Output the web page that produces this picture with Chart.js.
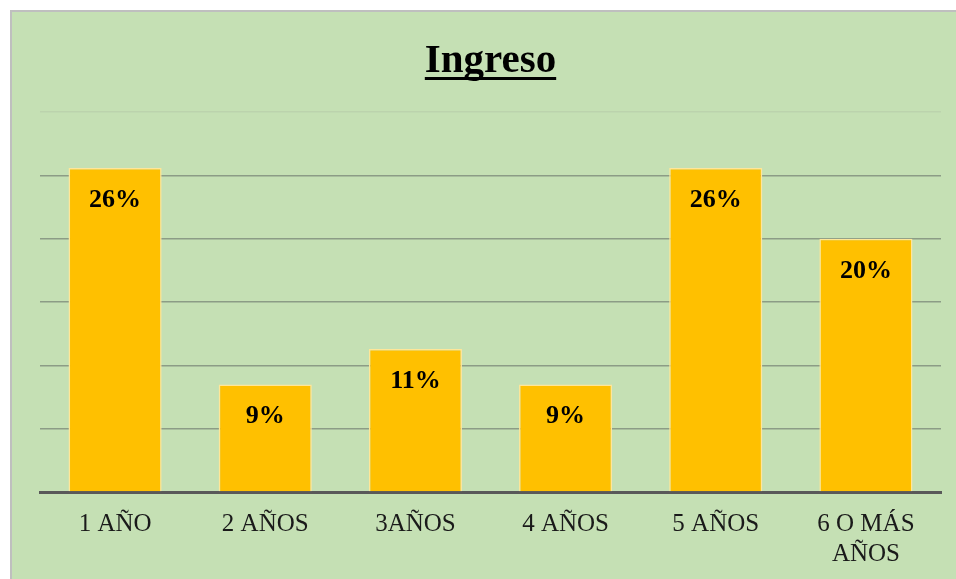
<!DOCTYPE html>
<html>
<head>
<meta charset="utf-8">
<script src="https://cdn.jsdelivr.net/npm/chart.js@4.4.1/dist/chart.umd.min.js"></script>
<style>
  html, body { margin: 0; padding: 0; background: #ffffff; }
  #frame {
    position: absolute; left: 10px; top: 10px;
    width: 946px; height: 569px; overflow: hidden;
    border-top: 2px solid #bfbfbf; border-left: 2px solid #bfbfbf;
    background: #c5e0b4;
  }
  #wrap { position: absolute; left: 0; top: 0; width: 944px; height: 584px; }
</style>
</head>
<body>
<div id="frame"><div id="wrap"><canvas id="chart"></canvas></div></div>
<script>
  // data
  const categories = ["1 AÑO", "2 AÑOS", "3AÑOS", "4 AÑOS", "5 AÑOS", ["6 O MÁS", "AÑOS"]];
  const values = [25.6, 8.5, 11.3, 8.5, 25.6, 20];
  const valueLabels = ["26%", "9%", "11%", "9%", "26%", "20%"];
  const yTicks = [0, 5, 10, 15, 20, 25, 30];

  const SERIF = '"Liberation Serif", "Times New Roman", serif';

  // draws the percentage inside the top of each bar
  const barLabels = {
    id: "barLabels",
    afterDatasetsDraw(chart) {
      const ctx = chart.ctx;
      const meta = chart.getDatasetMeta(0);
      ctx.save();
      ctx.font = "bold 26px " + SERIF;
      ctx.fillStyle = "#000000";
      ctx.textAlign = "center";
      ctx.textBaseline = "middle";
      meta.data.forEach((bar, i) => {
        ctx.fillText(valueLabels[i], bar.x, bar.y + 32);
      });
      ctx.restore();
    }
  };

  // underline for the title
  const titleUnderline = {
    id: "titleUnderline",
    afterDraw(chart) {
      const ctx = chart.ctx;
      ctx.save();
      ctx.font = "bold 41px " + SERIF;
      const w = ctx.measureText(chart.options.plugins.title.text).width;
      const cx = (chart.chartArea.left + chart.chartArea.right) / 2;
      ctx.fillStyle = "#000000";
      ctx.fillRect(cx - w / 2, 65, w, 3);
      ctx.restore();
    }
  };

  new Chart(document.getElementById("chart"), {
    type: "bar",
    data: {
      labels: categories,
      datasets: [{
        data: values,
        backgroundColor: "#ffc000",
        borderColor: "#ffe699",
        borderWidth: 1.5,
        barPercentage: 0.62,
        categoryPercentage: 1
      }]
    },
    options: {
      responsive: true,
      maintainAspectRatio: false,
      animation: false,
      layout: { padding: { left: 28, right: 15, top: 0, bottom: 10 } },
      plugins: {
        legend: { display: false },
        tooltip: { enabled: false },
        title: {
          display: true,
          text: "Ingreso",
          color: "#000000",
          font: { family: SERIF, size: 41, weight: "bold", lineHeight: 1.2 },
          padding: { top: 25, bottom: 26 }
        }
      },
      scales: {
        x: {
          grid: { display: false, drawTicks: false },
          border: { display: true, color: "#595959", width: 3 },
          ticks: {
            color: "#1a1a1a",
            padding: 17,
            maxRotation: 0,
            autoSkip: false,
            font: { family: SERIF, size: 25, lineHeight: 1.2 }
          }
        },
        y: {
          min: 0,
          max: 30,
          afterBuildTicks: (axis) => { axis.ticks = yTicks.map(v => ({ value: v })); },
          grid: {
            drawTicks: false,
            lineWidth: 1.5,
            color: (c) => c.tick && c.tick.value === 30 ? "#bcd3ad" : "#8c9c86"
          },
          border: { display: false },
          ticks: { display: false, padding: 0 }
        }
      }
    },
    plugins: [barLabels, titleUnderline]
  });
</script>
</body>
</html>
